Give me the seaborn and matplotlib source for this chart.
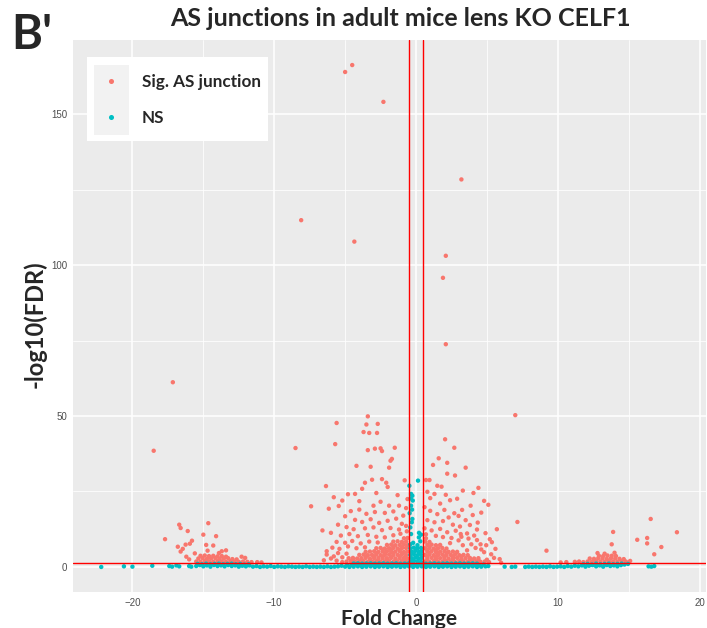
import pandas as pd
import matplotlib
matplotlib.use("Agg")
import matplotlib.pyplot as plt
from matplotlib.patches import Rectangle
from matplotlib.ticker import MultipleLocator
import seaborn as sns

# ---- data: (fold change, -log10 FDR) ----
# significant junctions far above the cloud
sig_outliers = [(-5.0, 164.0), (-4.5, 166.3), (-2.3, 154.1), (3.2, 128.4), (-4.35, 107.8),
                (2.1, 103.1), (1.9, 95.8), (-8.1, 114.9), (2.1, 73.8), (-17.15, 61.2),
                (-18.5, 38.5), (7.0, 50.3), (-8.5, 39.4)]

# scattered significant junctions around the centre
sig_mid = [(-5.6, 47.7), (-5.7, 40.7), (-3.4, 49.9), (-3.5, 47.2), (-2.7, 47.4), (-3.7, 44.7),
           (-3.3, 44.4), (-2.75, 44.4), (-3.4, 38.7), (-2.9, 39.2), (-2.5, 39.3), (-2.4, 38.4),
           (-1.5, 39.5), (-1.7, 35.8), (-1.8, 35.2), (-4.2, 33.5), (-3.2, 33.2), (-1.9, 32.9),
           (-6.35, 26.8), (-3.6, 27.9), (-3.1, 28.9), (-2.4, 29.1), (-2.1, 27.9), (-2.0, 26.5),
           (-0.8, 28.7), (-5.8, 23.1), (-5.45, 20.2), (-7.4, 20.1), (-6.15, 19.3), (-4.8, 24.1),
           (-4.3, 24.2), (-3.8, 25.9), (-2.5, 21.6), (-3.0, 20.3), (-1.9, 20.3), (-1.2, 20.3),
           (-5.0, 16.8), (-6.6, 12.1), (-6.0, 11.3), (-6.3, 5.2), (-6.3, 4.1),
           (2.05, 42.3), (2.7, 39.5), (1.6, 36.0), (1.2, 33.8), (2.2, 34.5), (3.5, 32.9),
           (0.7, 28.8), (0.95, 28.8), (2.2, 30.9), (2.75, 30.3), (1.5, 26.9), (1.8, 26.6),
           (4.4, 26.2), (1.3, 24.2), (2.1, 23.9), (2.4, 22.1), (4.05, 24.5), (5.1, 20.6),
           (3.25, 18.9), (3.85, 20.3), (2.7, 17.8), (3.5, 15.5), (4.35, 14.7), (5.7, 12.5),
           (3.15, 10.9), (3.2, 10.0), (5.2, 9.2), (5.35, 8.2), (4.55, 7.5), (4.95, 7.2),
           (5.6, 6.0), (5.0, 2.4), (7.15, 14.9), (9.2, 5.4), (6.0, 1.4),
           (-4.6, 18.5), (-4.0, 19.0), (-3.5, 17.6), (-2.9, 18.2), (-2.2, 17.9), (-1.6, 18.4),
           (-0.9, 17.0), (-0.7, 19.5), (-4.3, 15.6), (-3.8, 14.9), (-3.2, 15.8), (-2.6, 14.6),
           (-2.0, 15.3), (-1.4, 16.0), (-1.0, 14.3), (-5.5, 14.0), (-4.9, 13.2), (-4.4, 12.5),
           (-3.6, 12.8), (-3.0, 13.1), (-2.4, 12.2), (-1.8, 12.9), (-1.2, 12.4), (-0.7, 13.6),
           (-5.3, 10.4), (-4.7, 10.9), (-4.1, 10.2), (-3.4, 10.6), (-2.8, 10.0), (-2.2, 9.8),
           (-1.6, 10.5), (-1.1, 11.0), (-0.65, 11.8), (-5.6, 8.3), (-5.0, 8.0), (-4.5, 8.6),
           (-3.9, 7.8), (-3.3, 8.4), (-2.7, 8.1), (-5.9, 6.4), (-5.4, 6.0), (-4.8, 6.8),
           (-4.2, 6.2), (-3.6, 6.5), (-5.8, 3.5), (-5.5, 4.6), (-5.2, 3.2), (-4.9, 4.4),
           (-6.5, 2.2), (-6.0, 2.8), (-5.6, 2.1), (-0.6, 22.5), (-1.3, 23.8), (-2.8, 24.5),
           (-4.0, 21.8), (-5.2, 22.0),
           (0.6, 19.8), (1.0, 18.6), (1.5, 17.5), (2.0, 18.9), (2.3, 16.4), (3.0, 16.9),
           (4.0, 17.2), (4.6, 18.0), (0.8, 15.5), (1.3, 14.8), (1.9, 15.2), (2.6, 14.0),
           (3.1, 13.4), (3.8, 13.9), (4.3, 12.4), (4.9, 11.2), (0.6, 12.8), (1.1, 12.1),
           (1.7, 12.6), (2.2, 11.5), (2.8, 12.0), (3.6, 11.1), (4.1, 10.4), (0.7, 10.8),
           (1.4, 10.3), (1.9, 9.9), (2.5, 9.6), (3.0, 8.8), (3.7, 9.4), (4.3, 8.9),
           (2.4, 7.9), (3.3, 7.2), (3.9, 7.5), (4.6, 5.8), (4.2, 6.3), (3.6, 5.5),
           (5.3, 4.2), (4.8, 4.9), (5.5, 3.0), (5.9, 2.6), (1.0, 22.8), (1.7, 21.0),
           (2.9, 22.6), (3.3, 25.3), (0.8, 24.9), (4.8, 21.9)]

# dense significant core just above the FDR line
sig_core = [(-5.2, 1.6), (-4.9, 1.8), (-4.6, 1.9), (-4.3, 1.7), (-4.0, 1.8), (-3.7, 1.9),
            (-3.4, 1.7), (-3.1, 1.8), (-2.8, 1.9), (-2.5, 1.7), (-2.2, 1.8), (-1.9, 1.9),
            (-1.6, 1.7), (-1.3, 1.8), (-1.0, 1.9), (-0.7, 1.7),
            (0.65, 1.8), (0.95, 1.7), (1.25, 1.9), (1.55, 1.8), (1.85, 1.7), (2.15, 1.9),
            (2.45, 1.8), (2.75, 1.7), (3.05, 1.9), (3.35, 1.8), (3.65, 1.7), (3.95, 1.9),
            (4.25, 1.8), (4.55, 1.7), (4.85, 1.8), (5.15, 1.6),
            (-4.75, 2.9), (-4.45, 3.0), (-4.15, 2.8), (-3.85, 2.9), (-3.55, 3.0), (-3.25, 2.8),
            (-2.95, 2.9), (-2.65, 3.0), (-2.35, 2.8), (-2.05, 2.9), (-1.75, 3.0), (-1.45, 2.8),
            (-1.15, 2.9), (-0.85, 3.0), (-0.6, 2.8),
            (0.8, 2.9), (1.1, 3.0), (1.4, 2.8), (1.7, 2.9), (2.0, 3.0), (2.3, 2.8), (2.6, 2.9),
            (2.9, 3.0), (3.2, 2.8), (3.5, 2.9), (3.8, 3.0), (4.1, 2.8), (4.4, 2.9),
            (-4.0, 4.0), (-3.7, 4.1), (-3.4, 3.9), (-3.1, 4.0), (-2.8, 4.1), (-2.5, 3.9),
            (-2.2, 4.0), (-1.9, 4.1), (-1.6, 3.9), (-1.3, 4.0), (-1.0, 4.1), (-0.7, 3.9),
            (0.65, 4.0), (0.95, 4.1), (1.25, 3.9), (1.55, 4.0), (1.85, 4.1), (2.15, 3.9),
            (2.45, 4.0), (2.75, 4.1), (3.05, 3.9), (3.35, 4.0), (3.65, 3.9),
            (-3.55, 5.0), (-3.25, 5.1), (-2.95, 5.2), (-2.65, 5.0), (-2.35, 5.1), (-2.05, 5.2),
            (-1.75, 5.0), (-1.45, 5.1), (-1.15, 5.2), (-0.85, 5.0), (-0.6, 5.1),
            (0.8, 5.1), (1.1, 5.2), (1.4, 5.0), (1.7, 5.1), (2.0, 5.2), (2.3, 5.0), (2.6, 5.1),
            (2.9, 5.0),
            (-2.8, 6.2), (-2.5, 6.3), (-2.2, 6.1), (-1.9, 6.2), (-1.6, 6.3), (-1.3, 6.1),
            (-1.0, 6.2), (-0.7, 6.3), (0.65, 6.2), (0.95, 6.3), (1.25, 6.1), (1.55, 6.2),
            (1.85, 6.3), (2.15, 6.1),
            (-2.05, 7.3), (-1.75, 7.4), (-1.45, 7.2), (-1.15, 7.3), (-0.85, 7.4), (-0.6, 7.2),
            (0.8, 7.3), (1.1, 7.4), (1.4, 7.2), (1.7, 7.3),
            (-1.6, 8.4), (-1.3, 8.5), (-1.0, 8.3), (-0.7, 8.4), (0.65, 8.4), (0.95, 8.3),
            (-0.85, 9.5), (-0.6, 9.6), (0.7, 9.5),
            # in-between points that close the gaps of the core
            (-4.45, 2.3), (-3.85, 2.4), (-3.25, 2.3), (-2.65, 2.4), (-2.05, 2.3), (-1.45, 2.4),
            (-0.85, 2.3), (0.8, 2.3), (1.4, 2.4), (2.0, 2.3), (2.6, 2.4), (3.2, 2.3), (3.8, 2.4),
            (4.4, 2.3), (-3.55, 3.5), (-2.95, 3.4), (-2.35, 3.5), (-1.75, 3.4), (-1.15, 3.5),
            (0.8, 3.5), (1.4, 3.4), (2.0, 3.5), (2.6, 3.4), (3.2, 3.5), (-2.8, 4.6),
            (-2.2, 4.5), (-1.6, 4.6), (-1.0, 4.5), (0.95, 4.6), (1.55, 4.5), (2.15, 4.6),
            (-2.35, 5.7), (-1.75, 5.6), (-1.15, 5.7), (0.8, 5.6), (1.4, 5.7), (-1.6, 6.8),
            (-1.0, 6.7), (0.95, 6.8)]

# left-hand significant group (around -13)
sig_left = [(-15.5, 1.8), (-15.2, 1.7), (-14.9, 1.9), (-14.6, 1.8), (-14.3, 1.7), (-14.0, 1.9),
            (-13.7, 1.8), (-13.4, 1.7), (-13.1, 1.9), (-12.8, 1.8), (-12.5, 1.7), (-12.2, 1.8),
            (-11.9, 1.7), (-11.6, 1.6),
            (-15.35, 2.8), (-15.05, 2.9), (-14.75, 2.7), (-14.45, 2.8), (-14.15, 2.9),
            (-13.85, 2.7), (-13.55, 2.8), (-13.25, 2.9), (-12.95, 2.6), (-12.65, 2.5),
            (-15.2, 3.7), (-14.9, 3.8), (-14.6, 3.6), (-14.3, 3.7), (-14.0, 3.5), (-13.7, 3.6),
            (-13.4, 3.4),
            (-16.7, 14.0), (-16.6, 12.9), (-16.1, 11.9), (-17.7, 9.2), (-14.65, 14.5),
            (-15.0, 10.7), (-14.1, 10.2), (-16.8, 6.7), (-16.6, 5.1), (-15.8, 8.7),
            (-15.95, 7.7), (-16.25, 7.4), (-16.45, 6.0), (-16.2, 3.4), (-14.8, 7.3),
            (-14.3, 7.1), (-13.4, 5.5), (-14.7, 5.4), (-13.9, 4.6), (-13.7, 5.2),
            (-12.05, 3.0), (-15.6, 4.5), (-16.0, 2.5), (-11.2, 1.6), (-10.9, 1.5), (-12.3, 3.4)]

# right-hand significant group (around +13)
sig_right = [(11.2, 1.7), (11.5, 1.8), (11.8, 1.6), (12.1, 1.8), (12.4, 1.7), (12.7, 1.9),
             (13.0, 1.8), (13.3, 1.7), (13.6, 1.9), (13.9, 1.8), (14.2, 1.7), (14.5, 1.9),
             (14.8, 1.8),
             (12.25, 2.8), (12.55, 2.7), (12.85, 2.9), (13.15, 2.8), (13.45, 2.7), (13.75, 2.9),
             (14.05, 2.8), (14.35, 2.7), (14.65, 2.6),
             (12.9, 3.7), (13.2, 3.6), (13.5, 3.8), (13.8, 3.7), (14.1, 3.6),
             (12.8, 4.6), (13.3, 4.4), (14.0, 4.7), (13.8, 7.5), (13.9, 11.6), (16.55, 15.9),
             (18.4, 11.5), (15.6, 9.0), (16.3, 9.6), (16.3, 7.8), (17.3, 6.6), (16.8, 4.2),
             (10.6, 1.6), (10.2, 1.5), (15.1, 2.0)]

# non-significant junctions
ns_left = [(-22.2, 0.0), (-20.6, 0.2), (-20.0, 0.1), (-18.6, 0.4), (-17.4, 0.3), (-17.2, 0.1),
           (-16.9, 0.5), (-16.7, 0.2), (-16.0, 0.3), (-15.85, 0.1),
           (-15.5, 0.3), (-15.25, 0.6), (-15.0, 0.2), (-14.75, 0.5), (-14.5, 0.1), (-14.25, 0.6),
           (-14.0, 0.3), (-13.75, 0.5), (-13.5, 0.2), (-13.25, 0.6), (-13.0, 0.3), (-12.75, 0.5),
           (-12.5, 0.1), (-12.25, 0.4), (-12.0, 0.2), (-11.75, 0.5), (-11.5, 0.1), (-11.25, 0.3),
           (-11.0, 0.0), (-10.75, 0.2), (-10.5, 0.1), (-10.25, 0.3), (-10.0, 0.0), (-9.75, 0.2),
           (-9.5, 0.1), (-9.25, 0.0), (-9.0, 0.2), (-8.75, 0.1), (-8.5, 0.0), (-8.25, 0.1),
           (-8.0, 0.0), (-7.75, 0.2), (-7.5, 0.0), (-7.25, 0.1), (-7.0, 0.0), (-6.75, 0.1),
           (-6.5, 0.0), (-6.25, 0.2), (-6.0, 0.0), (-5.75, 0.1), (-5.5, 0.2), (-5.25, 0.4),
           (-15.4, 1.0), (-15.1, 0.9), (-14.8, 1.1), (-14.5, 0.9), (-14.2, 1.0), (-13.9, 1.1),
           (-13.6, 0.9), (-13.3, 1.0), (-13.0, 1.1), (-12.7, 0.9), (-12.4, 1.0), (-12.1, 0.8),
           (-11.8, 0.9)]

ns_center = [(-5.0, 0.1), (-4.7, 0.0), (-4.4, 0.1), (-4.1, 0.2), (-3.8, 0.0), (-3.5, 0.1),
             (-3.2, 0.2), (-2.9, 0.0), (-2.6, 0.1), (-2.3, 0.2), (-2.0, 0.0), (-1.7, 0.1),
             (-1.4, 0.2), (-1.1, 0.0), (-0.8, 0.1), (-0.5, 0.2), (-0.2, 0.0), (0.1, 0.1),
             (0.4, 0.2), (0.7, 0.0), (1.0, 0.1), (1.3, 0.2), (1.6, 0.0), (1.9, 0.1), (2.2, 0.2),
             (2.5, 0.0), (2.8, 0.1), (3.1, 0.2), (3.4, 0.0), (3.7, 0.1), (4.0, 0.2), (4.3, 0.0),
             (4.6, 0.1), (4.9, 0.2),
             (-4.85, 0.7), (-4.55, 0.6), (-4.25, 0.8), (-3.95, 0.7), (-3.65, 0.6), (-3.35, 0.8),
             (-3.05, 0.7), (-2.75, 0.6), (-2.45, 0.8), (-2.15, 0.7), (-1.85, 0.6), (-1.55, 0.8),
             (-1.25, 0.7), (-0.95, 0.6), (-0.65, 0.8), (-0.35, 0.7), (-0.05, 0.6), (0.25, 0.8),
             (0.55, 0.7), (0.85, 0.6), (1.15, 0.8), (1.45, 0.7), (1.75, 0.6), (2.05, 0.8),
             (2.35, 0.7), (2.65, 0.6), (2.95, 0.8), (3.25, 0.7), (3.55, 0.6), (3.85, 0.8),
             (4.15, 0.7), (4.45, 0.6), (4.75, 0.8),
             (-4.4, 1.15), (-4.1, 1.2), (-3.8, 1.1), (-3.5, 1.15), (-3.2, 1.2), (-2.9, 1.1),
             (-2.6, 1.15), (-2.3, 1.2), (-2.0, 1.1), (-1.7, 1.15), (-1.4, 1.2), (-1.1, 1.1),
             (-0.8, 1.15), (-0.5, 1.2), (-0.2, 1.1), (0.1, 1.15), (0.4, 1.2), (0.7, 1.1),
             (1.0, 1.15), (1.3, 1.2), (1.6, 1.1), (1.9, 1.15), (2.2, 1.2), (2.5, 1.1),
             (2.8, 1.15), (3.1, 1.2), (3.4, 1.1), (3.7, 1.15), (4.0, 1.2), (4.3, 1.1),
             (-0.4, 1.8), (-0.15, 2.0), (0.1, 1.9), (0.35, 1.7), (-0.3, 2.9), (-0.05, 3.1),
             (0.2, 2.8), (0.4, 3.0), (-0.4, 4.0), (-0.15, 4.2), (0.1, 3.9), (0.35, 4.1),
             (-0.3, 5.1), (-0.05, 5.3), (0.2, 5.0), (0.4, 5.2), (-0.4, 6.2), (-0.15, 6.4),
             (0.1, 6.1), (0.35, 6.3),
             (0.14, 28.6), (-0.47, 26.9), (-0.35, 24.2), (-0.26, 23.6), (-0.37, 22.7),
             (-0.23, 22.0), (-0.35, 20.3), (-0.28, 19.0), (-0.45, 17.8), (-0.26, 15.9),
             (-0.3, 14.8), (-0.4, 13.1), (-0.35, 10.9), (0.21, 11.3), (0.35, 10.7), (0.2, 9.8),
             (0.3, 8.5), (-0.2, 8.0), (0.1, 7.2), (-0.4, 7.5)]

ns_right = [(5.1, 0.3), (6.25, 0.1), (6.75, 0.0), (7.0, 0.1),
            (7.7, 0.0), (7.95, 0.1), (8.2, 0.0), (8.45, 0.1), (8.7, 0.0), (8.95, 0.1), (9.2, 0.0),
            (9.45, 0.2), (9.7, 0.0), (9.95, 0.1), (10.2, 0.2), (10.45, 0.0), (10.7, 0.3),
            (10.95, 0.1), (11.2, 0.4), (11.45, 0.2), (11.7, 0.5), (11.95, 0.1), (12.2, 0.4),
            (12.45, 0.6), (12.7, 0.2), (12.95, 0.5), (13.2, 0.1), (13.45, 0.6), (13.7, 0.3),
            (13.95, 0.5), (14.2, 0.2), (14.45, 0.6), (14.7, 0.8), (14.95, 1.0),
            (11.8, 0.9), (12.1, 1.0), (12.4, 0.8), (12.7, 1.1), (13.0, 0.9), (13.3, 1.0),
            (13.6, 1.1), (13.9, 0.9), (14.2, 1.0), (14.5, 1.1),
            (16.4, 0.2), (16.6, 0.1), (16.8, 0.3)]

groups = ["Sig. AS junction", "NS"]
colors = ["#F8766D", "#00BFC4"]
fc_cut = 0.5
fdr_cut = 1.3   # -log10(0.05)


def as_frame(points, label):
    return pd.DataFrame(points, columns=["fc", "fdr"]).assign(group=label)


df = pd.concat([as_frame(sig_outliers + sig_mid + sig_core + sig_left + sig_right, groups[0]),
                as_frame(ns_left + ns_center + ns_right, groups[1])], ignore_index=True)

sns.set_theme(style="darkgrid", rc={"axes.facecolor": "#EBEBEB", "grid.color": "white"})
plt.rcParams["font.family"] = ["Lato", "DejaVu Sans"]

fig = plt.figure(figsize=(7.07, 6.28), dpi=100)
ax = fig.add_axes([73.3 / 707, 1 - 592 / 628, (706 - 73.3) / 707, (592 - 40) / 628])

sns.scatterplot(data=df, x="fc", y="fdr", hue="group", hue_order=groups,
                palette=dict(zip(groups, colors)), s=10, linewidth=0, ax=ax)

ax.axvline(-fc_cut, color="red", lw=1.0, zorder=3)
ax.axvline(fc_cut, color="red", lw=1.0, zorder=3)
ax.axhline(fdr_cut, color="red", lw=1.0, zorder=3)

ax.set_xlim(-24.17, 20.45)
ax.set_ylim(-8.3, 174.6)
ax.set_xticks([-20, -10, 0, 10, 20])
ax.set_yticks([0, 50, 100, 150])
ax.xaxis.set_minor_locator(MultipleLocator(5))
ax.yaxis.set_minor_locator(MultipleLocator(25))
ax.grid(which="major", color="white", lw=1.1)
ax.grid(which="minor", color="white", lw=0.55)
for s in ax.spines.values():
    s.set_visible(False)
ax.tick_params(which="major", length=2.2, width=0.8, color="#333333", pad=2,
               labelsize=7, labelcolor="#4D4D4D")
ax.tick_params(which="minor", length=0)
for lab in ax.get_xticklabels() + ax.get_yticklabels():
    lab.set_family("Liberation Sans")
ax.set_xlabel("")
ax.set_ylabel("")

# titles and axis labels
fig.text(400 / 707, 1 - 19 / 628, "AS junctions in adult mice lens KO CELF1",
         ha="center", va="center", fontsize=18, weight="bold")
fig.text(11 / 707, 1 - 35 / 628, "B'", ha="left", va="center", fontsize=34, weight="bold")
fig.text(399 / 707, 1 - 619 / 628, "Fold Change", ha="center", va="center",
         fontsize=15, weight="bold")
fig.text(35 / 707, 1 - 324 / 628, "-log10(FDR)", ha="center", va="center",
         rotation=90, fontsize=17, weight="bold")

# legend box with grey key column, like ggplot
handles, labels = ax.get_legend_handles_labels()
ax.get_legend().remove()
fig.add_artist(Rectangle((87 / 707, 1 - 141 / 628), 181 / 707, 84 / 628,
                         transform=fig.transFigure, facecolor="white", edgecolor="none",
                         zorder=3))
fig.add_artist(Rectangle((94 / 707, 1 - 135 / 628), 35 / 707, 70 / 628,
                         transform=fig.transFigure, facecolor="#F2F2F2", edgecolor="none",
                         zorder=4))
fig.legend(handles, labels, loc="center left", bbox_to_anchor=(102.5 / 707, 1 - 100 / 628),
           frameon=False, borderpad=0, borderaxespad=0, handlelength=1.0,
           handletextpad=1.31, labelspacing=1.16,
           prop={"family": "Lato", "weight": "bold", "size": 12.3},
           markerscale=1.15).set_zorder(5)

fig.savefig("out.png", dpi=100)
